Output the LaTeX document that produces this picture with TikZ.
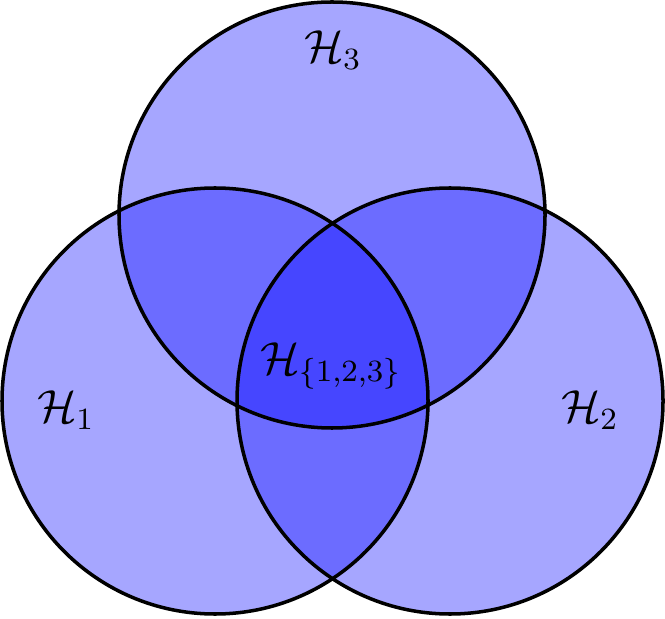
\documentclass[tikz,border=0pt]{standalone}
\begin{document}
\begin{tikzpicture}[x=1cm,y=1cm]
\tikzset{set/.style={fill=blue,fill opacity=0.35},
         rim/.style={draw=black,line width=1pt},
         lab/.style={font=\large,scale=1.1}}

\useasboundingbox (0,0) rectangle (6.65,6.18);

\begin{scope}
        \coordinate (C1) at (2.15,2.17);
        \coordinate (C2) at (4.50,2.17);
        \coordinate (C3) at (3.32,4.03);

        \fill[set] (C1) circle[radius=2.13];
        \fill[set] (C2) circle[radius=2.13];
        \fill[set] (C3) circle[radius=2.13];

        \draw[rim] (C1) circle[radius=2.13];
        \draw[rim] (C2) circle[radius=2.13];
        \draw[rim] (C3) circle[radius=2.13];

        % Etykiety
        \node[lab] (h1) at (0.66,2.08) {$\mathcal{H}_1$};
        \node[lab] (h2) at (5.90,2.08) {$\mathcal{H}_2$};
        \node[lab] (h3) at (3.33,5.68) {$\mathcal{H}_3$};
        \node[lab] (h123) at (3.31,2.52) {$\mathcal{H}_{\{1,2,3\}}$};
\end{scope}

\end{tikzpicture}
\end{document}
